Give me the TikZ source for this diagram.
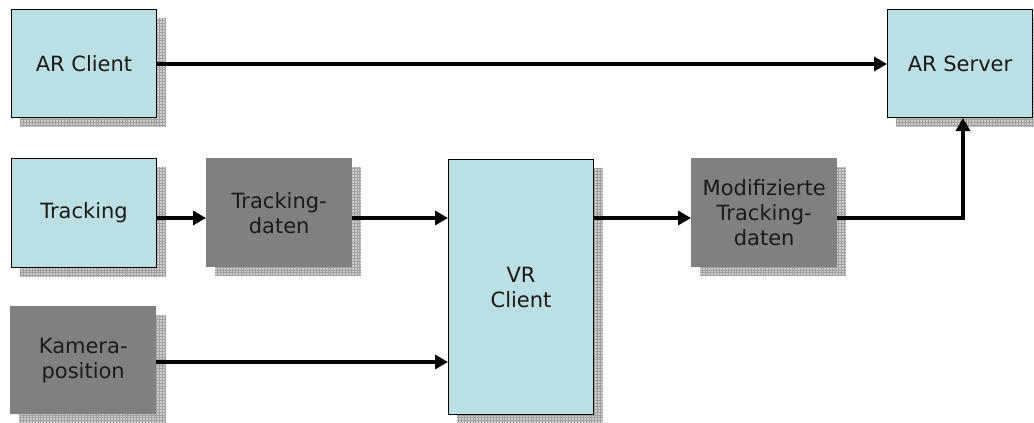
\documentclass[tikz,border=0pt]{standalone}
\usepackage{fontspec}
\setmainfont{DejaVu Sans}
\usetikzlibrary{arrows.meta,backgrounds,calc}
\definecolor{boxblue}{RGB}{187,224,227}
\definecolor{boxgray}{RGB}{128,128,128}
\definecolor{shadefill}{RGB}{204,204,204}
\definecolor{shadeline}{RGB}{160,160,160}
\definecolor{txt}{RGB}{26,26,26}
\begin{document}
\begin{tikzpicture}[x=1pt,y=-1pt,
  block/.style={anchor=north west,inner sep=0pt,align=center,text=txt,
    font=\fontsize{21}{25}\selectfont},
  bluebox/.style={block,fill=boxblue,draw=black,line width=1pt},
  graybox/.style={block,fill=boxgray},
  conn/.style={line width=4pt,-{Triangle[length=13pt,width=14pt]}}]
\useasboundingbox (0,0) rectangle (1034,423);

% blocks
\node[bluebox,minimum width=145,minimum height=108] (arc) at (11,9) {AR Client};
\node[bluebox,minimum width=145,minimum height=108] (ars) at (887,9) {AR Server};
\node[bluebox,minimum width=145,minimum height=109] (trk) at (11,158) {Tracking};
\node[graybox,minimum width=146,minimum height=109] (trd) at (206,158) {Tracking-\\daten};
\node[bluebox,minimum width=145,minimum height=255] (vr) at (448,159) {VR\\Client};
\node[graybox,minimum width=146,minimum height=109] (mod) at (691,158) {Modifizierte\\Tracking-\\daten};
\node[graybox,minimum width=146,minimum height=108] (kam) at (10,306) {Kamera-\\position};

% hatched drop shadows
\begin{scope}[on background layer]
  \foreach \n in {arc,ars,trk,trd,vr,mod,kam}{
    \fill[shadefill] ($(\n.north west)+(9,9)$) rectangle ($(\n.south east)+(9,9)$);
    \draw[shadeline,line width=0.4pt,step=2.9pt] ($(\n.north west)+(9,9)$) grid ($(\n.south east)+(9,9)$);
  }
\end{scope}

% connector levels
\coordinate (yA) at (0,64);
\coordinate (yB) at (0,218);
\coordinate (yC) at (0,362);

% connectors
\draw[conn] (arc.east |- yA) -- (ars.west |- yA);
\draw[conn] (trk.east |- yB) -- (trd.west |- yB);
\draw[conn] (trd.east |- yB) -- (vr.west |- yB);
\draw[conn] (kam.east |- yC) -- (vr.west |- yC);
\draw[conn] (vr.east |- yB) -- (mod.west |- yB);
\draw[conn] (mod.east |- yB) -| ($(ars.south)+(3,0)$);
\end{tikzpicture}
\end{document}
